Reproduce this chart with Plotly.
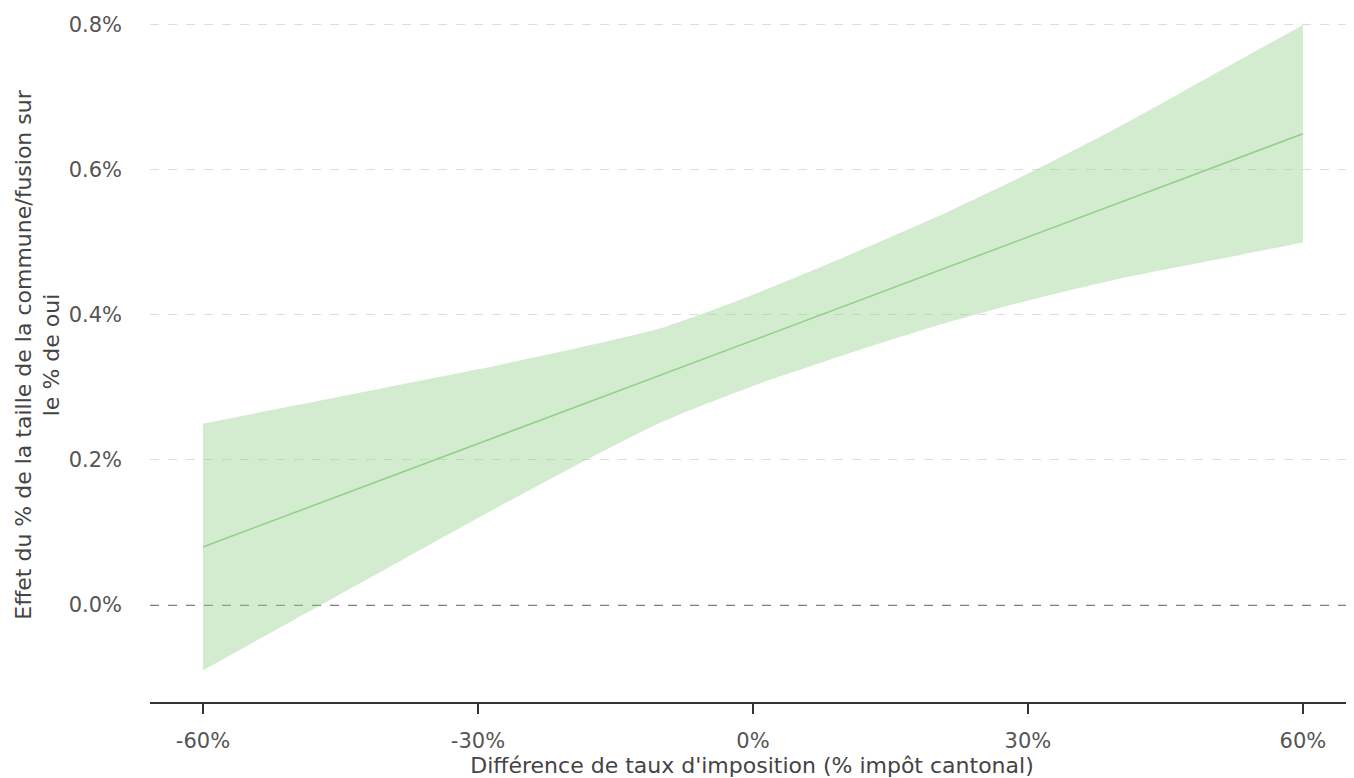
import plotly.graph_objects as go

x_vals = [-60, -50, -40, -30, -20, -10, 0, 10, 20, 30, 40, 50, 60]
effect = [0.08, 0.1275, 0.175, 0.2225, 0.27, 0.3175, 0.365, 0.4125, 0.46, 0.5075, 0.555, 0.6025, 0.65]
upper = [0.25, 0.275, 0.30, 0.325, 0.352, 0.382, 0.428, 0.48, 0.535, 0.595, 0.66, 0.73, 0.80]
lower = [-0.09, -0.02, 0.05, 0.12, 0.188, 0.252, 0.302, 0.345, 0.385, 0.42, 0.45, 0.475, 0.50]

x_ticks = [-60, -30, 0, 30, 60]
x_tick_labels = ["-60%", "-30%", "0%", "30%", "60%"]
y_ticks = [0.0, 0.2, 0.4, 0.6, 0.8]
y_tick_labels = ["0.0%", "0.2%", "0.4%", "0.6%", "0.8%"]

FONT = "DejaVu Sans, sans-serif"

fig = go.Figure()
fig.add_trace(go.Scatter(x=x_vals, y=upper, mode="lines", line=dict(width=0, shape="spline", smoothing=0.6),
                         hoverinfo="skip", showlegend=False))
fig.add_trace(go.Scatter(x=x_vals, y=lower, mode="lines", line=dict(width=0, shape="spline", smoothing=0.6),
                         fill="tonexty", fillcolor="rgba(150,210,140,0.42)",
                         hoverinfo="skip", showlegend=False))
fig.add_trace(go.Scatter(x=x_vals, y=effect, mode="lines",
                         line=dict(color="#8fd087", width=1.5), showlegend=False))

fig.add_hline(y=0, line=dict(color="#555", width=1.5, dash="dash"), layer="below")

fig.update_layout(
    width=1346, height=770,
    margin=dict(l=142, r=0, t=0, b=76),
    plot_bgcolor="white", paper_bgcolor="white",
    font=dict(family=FONT, size=21, color="#555"),
    xaxis=dict(range=[-65.78, 65.57], tickvals=x_ticks, ticktext=x_tick_labels,
               showgrid=False, zeroline=False, showline=True, linecolor="#333",
               linewidth=1.5, ticks="outside", ticklen=10, tickwidth=1.5, tickcolor="#333",
               ticklabelstandoff=9, automargin=False,
               title=dict(text="Différence de taux d'imposition (% impôt cantonal)",
                          font=dict(size=22, color="#444"), standoff=0)),
    yaxis=dict(range=[-0.1338, 0.8234], tickvals=y_ticks, ticktext=y_tick_labels,
               showgrid=True, gridcolor="#dddddd", griddash="dash", gridwidth=1.2,
               zeroline=False, automargin=False,
               showline=False, ticks="", ticklabelstandoff=27,
               title=dict(text="Effet du % de la taille de la commune/fusion sur<br>le % de oui",
                          font=dict(size=22, color="#444"), standoff=2)),
)

fig.write_html("out.html")
